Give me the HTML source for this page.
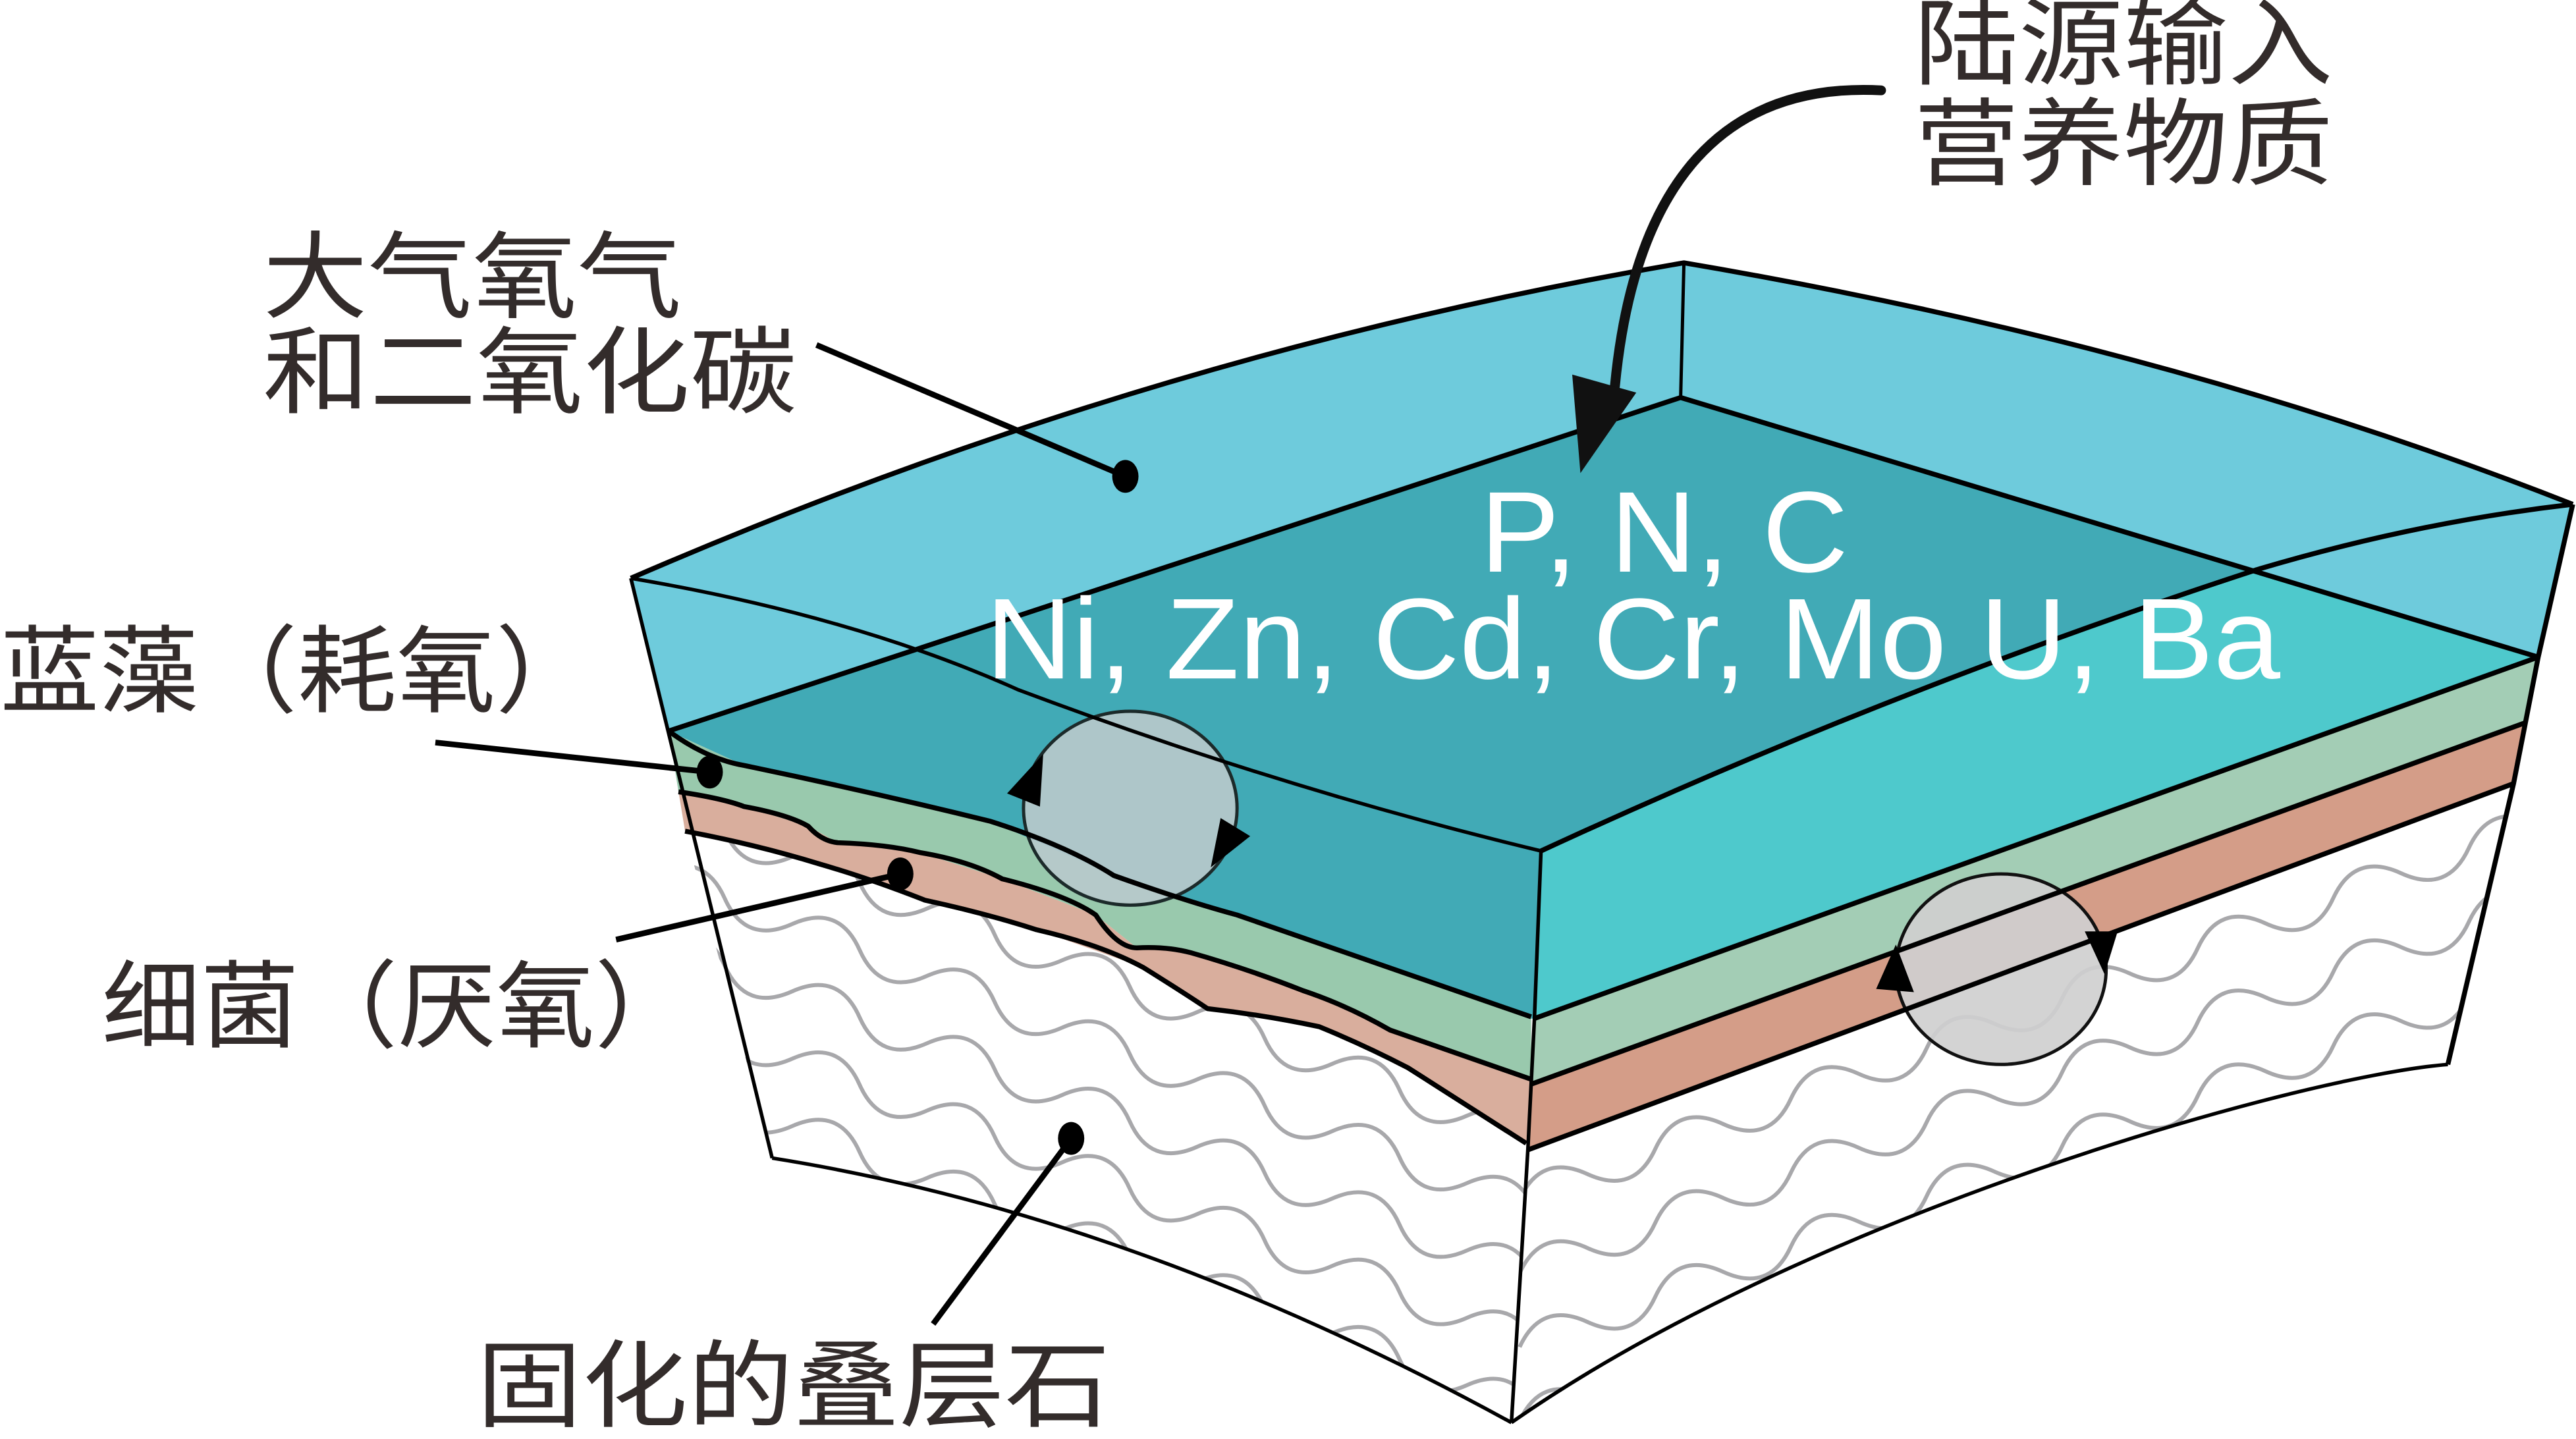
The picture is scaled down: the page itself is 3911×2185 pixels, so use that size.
<!DOCTYPE html>
<html><head><meta charset="utf-8"><style>
html,body{margin:0;padding:0;background:#fff;overflow:hidden;width:3911px;height:2185px}
svg{display:block}
.cj{font-family:"Liberation Sans","Noto Sans CJK SC",sans-serif;fill:#332c2b;font-size:58px}
.w{font-family:"Liberation Sans",sans-serif;fill:#fff;font-size:70px}
</style></head><body>
<svg width="3911" height="2185" viewBox="0 0 1568 876" preserveAspectRatio="none" xmlns="http://www.w3.org/2000/svg">
<defs>
<path id="wv" d="M0,0 q22,-22 44,0 t44,0 t44,0 t44,0 t44,0 t44,0 t44,0 t44,0 t44,0 t44,0 t44,0 t44,0 t44,0 t44,0 t44,0 t44,0 t44,0 t44,0 t44,0 t44,0" fill="none" stroke="#a8a8ab" stroke-width="2.4"/>
<clipPath id="cl"><path d="M417,506 L499,526 L563,548 L631,566 L696,589 L735,614 L803,625 L857,650 L929,696 L920,866 Q690,740 470,705 Z"/></clipPath>
<clipPath id="cr"><path d="M930,700 L1530,477 L1490,648 C1400,655 1100,740 920,866 Z"/></clipPath>
</defs>
<path d="M384,352 Q700,215 1025,160 Q1320,210 1566,307 L1545,400 L934,620 L407,445 Z" fill="#6ecbdc"/>
<path d="M407,445 L1023,242 L1373,347 Q1150,420 938,518 L934,620 L846,627 L753,557 L678,533 L603,500 L453,466 Z" fill="#41aab6"/>
<path d="M938,518 Q1150,420 1373,347 L1545,400 L934,620 Z" fill="#4ec9cc"/>
<path d="M407,445 L453,466 L603,500 L678,533 L753,557 L932,619 L932,657 L846,627 L793,603 L725,580 L692,577 L667,557 L610,535 L560,519 L510,513 L492,503 L453,491 L413,482 Z" fill="#99c9ad"/>
<path d="M413,482 L453,491 L492,503 L510,513 L560,519 L610,535 L667,557 L692,577 L725,580 L793,603 L846,627 L932,657 L929,696 L857,650 L803,625 L735,614 L696,589 L631,566 L563,548 L499,526 L417,506 Z" fill="#d9ae9d"/>
<path d="M934,620 L1545,400 L1537,440 L932,660 Z" fill="#a3cdb5"/>
<path d="M932,660 L1537,440 L1530,477 L930,700 Z" fill="#d49d88"/>
<path d="M417,506 L499,526 L563,548 L631,566 L696,589 L735,614 L803,625 L857,650 L929,696 L920,866 Q690,740 470,705 Z" fill="#fff"/>
<path d="M930,700 L1530,477 L1490,648 C1400,655 1100,740 920,866 Z" fill="#fff"/>
<g clip-path="url(#cl)">
<use href="#wv" transform="translate(400,490) rotate(21)"/>
<use href="#wv" transform="translate(400,531) rotate(21)"/>
<use href="#wv" transform="translate(400,572) rotate(21)"/>
<use href="#wv" transform="translate(400,613) rotate(21)"/>
<use href="#wv" transform="translate(400,654) rotate(21)"/>
<use href="#wv" transform="translate(400,695) rotate(21)"/>
<use href="#wv" transform="translate(400,736) rotate(21)"/>
</g>
<g clip-path="url(#cr)">
<use href="#wv" transform="translate(925,730) rotate(-20.3)"/>
<use href="#wv" transform="translate(925,775) rotate(-20.3)"/>
<use href="#wv" transform="translate(925,820) rotate(-20.3)"/>
<use href="#wv" transform="translate(925,865) rotate(-20.3)"/>
<use href="#wv" transform="translate(925,910) rotate(-20.3)"/>
<use href="#wv" transform="translate(925,955) rotate(-20.3)"/>
</g>
<ellipse cx="688" cy="492" rx="65" ry="59" fill="#b7c9cb" fill-opacity="0.92" stroke="#1c2a2a" stroke-width="2"/>
<ellipse cx="1218" cy="590" rx="64" ry="58" fill="#cfcfcf" fill-opacity="0.92" stroke="#111" stroke-width="2"/>
<g fill="none" stroke="#000" stroke-width="3" stroke-linejoin="round">
<path d="M407,445 Q430,462 453,466 Q530,482 603,500 Q650,515 678,533 Q720,548 753,557 L932,619"/>
<path d="M413,482 Q440,486 453,491 Q480,496 492,503 Q500,512 510,513 Q540,514 560,519 Q590,524 610,535 Q650,545 667,557 Q680,577 692,577 Q710,576 725,580 Q760,590 793,603 Q820,612 846,627 L932,657"/>
<path d="M417,506 Q460,514 499,526 Q530,535 563,548 Q600,556 631,566 Q670,575 696,589 Q720,604 735,614 Q770,618 803,625 Q830,636 857,650 L929,696"/>
<path d="M934,620 L1545,400"/>
<path d="M932,660 L1537,440"/>
<path d="M930,700 L1530,477"/>
<path d="M938,518 Q1150,420 1373,347 Q1470,318 1566,307"/>
<path d="M407,445 L1023,242 L1545,400"/>
<path d="M384,352 Q520,375 620,420 Q780,480 938,518" stroke-width="2.2"/>
<path d="M384,352 Q700,215 1025,160 Q1320,210 1566,307"/>
<path d="M1025,160 L1023,242" stroke-width="2"/>
<path d="M1566,307 L1545,400 L1530,477 L1490,648"/>
<path d="M384,352 L470,705" stroke-width="2.2"/>
<path d="M938,518 L934,620 L930,700 L920,866" stroke-width="2.2"/>
<path d="M470,705 Q690,740 920,866" stroke-width="2.2"/>
<path d="M1490,648 C1400,655 1100,740 920,866" stroke-width="2.2"/>
</g>
<g fill="#000">
<polygon points="635,459 613,483 633,491"/>
<polygon points="737,528 743,498 761,509"/>
<polygon points="1154,575 1142,602 1165,604"/>
<polygon points="1281,593 1269,567 1289,567"/>
</g>
<path d="M1145,55 C1050,50 995,110 983,235" fill="none" stroke="#111" stroke-width="6" stroke-linecap="round"/>
<polygon points="957,228 996,239 962,288" fill="#111"/>
<g stroke="#000" stroke-width="3.5" fill="none">
<line x1="497" y1="210" x2="685" y2="290"/>
<line x1="265" y1="452" x2="432" y2="470"/>
<line x1="375" y1="572" x2="548" y2="532"/>
<line x1="568" y1="806" x2="652" y2="693"/>
</g>
<g fill="#000">
<ellipse cx="685" cy="290" rx="8" ry="10"/>
<ellipse cx="432" cy="470" rx="8" ry="10"/>
<ellipse cx="548" cy="532" rx="8" ry="10"/>
<ellipse cx="652" cy="693" rx="8" ry="10"/>
</g>
<text class="w" x="901" y="348" textLength="224" lengthAdjust="spacingAndGlyphs">P, N, C</text>
<text class="w" x="600" y="413" textLength="788" lengthAdjust="spacingAndGlyphs">Ni, Zn, Cd, Cr, Mo U, Ba</text>
<text class="cj" x="1165" y="47" textLength="255" lengthAdjust="spacingAndGlyphs">陆源输入</text>
<text class="cj" x="1165" y="108" textLength="255" lengthAdjust="spacingAndGlyphs">营养物质</text>
<text class="cj" x="160" y="189" textLength="255" lengthAdjust="spacingAndGlyphs">大气氧气</text>
<text class="cj" x="160" y="247" textLength="325" lengthAdjust="spacingAndGlyphs">和二氧化碳</text>
<text class="cj" x="0" y="429" textLength="362" lengthAdjust="spacingAndGlyphs">蓝藻（耗氧）</text>
<text class="cj" x="62" y="633" textLength="360" lengthAdjust="spacingAndGlyphs">细菌（厌氧）</text>
<text class="cj" x="290" y="864" textLength="386" lengthAdjust="spacingAndGlyphs">固化的叠层石</text>
</svg>
</body></html>
